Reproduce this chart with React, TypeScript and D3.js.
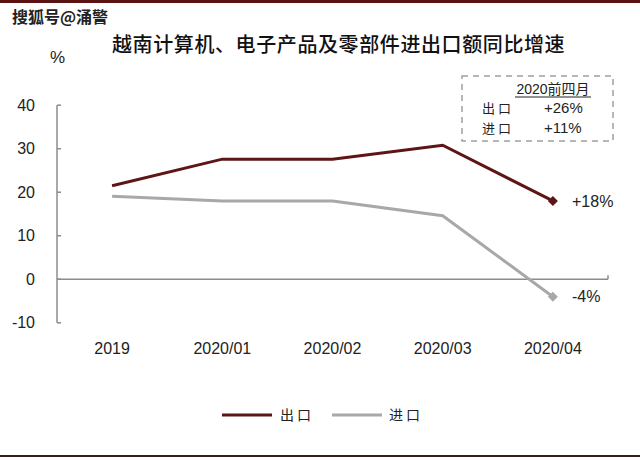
import React from "react";
import * as d3 from "d3";

const categories = ["2019", "2020/01", "2020/02", "2020/03", "2020/04"];
const exportValues = [21.5, 27.6, 27.6, 30.8, 18];
const importValues = [19.1, 18.0, 18.0, 14.6, -4];
const yTicks = [-10, 0, 10, 20, 30, 40];
const seriesNames = ["出口", "进口"];
const endLabels = ["+18%", "-4%"];
const boxValues = ["+26%", "+11%"];
const title = "越南计算机、电子产品及零部件进出口额同比增速";
const watermark = "搜狐号@涌警";

const W = 640;
const H = 460;
const EXPORT_COLOR = "#5e1515";
const IMPORT_COLOR = "#a8a8a8";
const AXIS_COLOR = "#8c8c8c";
const CJK = "'Noto Sans CJK SC', sans-serif";
const LATIN = "'Liberation Sans', Arial, sans-serif";

export default function App() {
  const x = d3.scaleBand<string>().domain(categories).range([57, 608]);
  const y = d3.scaleLinear().domain([-10, 40]).range([322.8, 105.2]);
  const cx = (c: string) => (x(c) as number) + x.bandwidth() / 2;

  const line = d3
    .line<number>()
    .x((_, i) => cx(categories[i]))
    .y((d) => y(d));

  const last = categories.length - 1;
  const marker = d3.symbol().type(d3.symbolSquare).size(50)();

  return (
    <svg
      width={W}
      height={H}
      style={{ position: "absolute", left: 0, top: 0, background: "#fff" }}
    >
      <rect x={0} y={0} width={W} height={H} fill="#fff" />
      <rect x={0} y={0} width={W} height={3} fill="#5a1212" />
      <rect x={0} y={455} width={W} height={2} fill="#3a1c1c" />
      <text x={12} y={23} fontFamily={CJK} fontWeight={700} fontSize={16} fill="#222">
        {watermark}
      </text>
      <text x={112} y={52} fontFamily={CJK} fontWeight={500} fontSize={20} letterSpacing={0.6} fill="#111">
        {title}
      </text>
      <text x={50} y={63} fontFamily={LATIN} fontSize={17} fill="#222">
        %
      </text>

      {/* y axis */}
      <line x1={57} x2={57} y1={y(40)} y2={y(-10)} stroke={AXIS_COLOR} strokeWidth={1.5} />
      {yTicks.map((t) => (
        <g key={t}>
          <line x1={57} x2={61} y1={y(t)} y2={y(t)} stroke={AXIS_COLOR} strokeWidth={1.5} />
          <text x={35} y={y(t)} dy="0.35em" textAnchor="end" fontFamily={LATIN} fontSize={16} fill="#222">
            {t}
          </text>
        </g>
      ))}
      {/* x axis at zero */}
      <line x1={57} x2={608} y1={y(0)} y2={y(0)} stroke={AXIS_COLOR} strokeWidth={1.5} />
      <line x1={608} x2={608} y1={y(0) - 4} y2={y(0)} stroke={AXIS_COLOR} strokeWidth={1.5} />
      {categories.map((c) => (
        <text key={c} x={cx(c)} y={348} dy="0.35em" textAnchor="middle" fontFamily={LATIN} fontSize={16} fill="#222">
          {c}
        </text>
      ))}

      {/* lines */}
      <path d={line(importValues) || ""} fill="none" stroke={IMPORT_COLOR} strokeWidth={3} />
      <path d={line(exportValues) || ""} fill="none" stroke={EXPORT_COLOR} strokeWidth={3} />
      <path d={marker || ""} transform={`translate(${cx(categories[last])},${y(exportValues[last])}) rotate(45)`} fill={EXPORT_COLOR} />
      <path d={marker || ""} transform={`translate(${cx(categories[last])},${y(importValues[last])}) rotate(45)`} fill={IMPORT_COLOR} />
      <text x={572} y={y(exportValues[last])} dy="0.35em" fontFamily={LATIN} fontSize={16} fill="#222">
        {endLabels[0]}
      </text>
      <text x={572} y={y(importValues[last])} dy="0.35em" fontFamily={LATIN} fontSize={16} fill="#222">
        {endLabels[1]}
      </text>

      {/* annotation box */}
      <rect x={462} y={76} width={151} height={65} fill="none" stroke="#a0a0a0" strokeWidth={1.5} strokeDasharray="6,5" />
      <text x={553} y={94} textAnchor="middle" fontSize={14} fill="#222">
        <tspan fontFamily={LATIN}>2020</tspan>
        <tspan fontFamily={CJK}>前四月</tspan>
      </text>
      <line x1={515} x2={591} y1={97} y2={97} stroke="#222" strokeWidth={1} />
      <text x={482} y={113} fontFamily={CJK} fontSize={13} letterSpacing={3} fill="#222">{seriesNames[0]}</text>
      <text x={544} y={113} fontFamily={LATIN} fontSize={15} fill="#222">{boxValues[0]}</text>
      <text x={482} y={133} fontFamily={CJK} fontSize={13} letterSpacing={3} fill="#222">{seriesNames[1]}</text>
      <text x={544} y={133} fontFamily={LATIN} fontSize={15} fill="#222">{boxValues[1]}</text>

      {/* legend */}
      <line x1={222} x2={272} y1={415} y2={415} stroke={EXPORT_COLOR} strokeWidth={3} />
      <text x={280} y={415} dy="0.35em" fontFamily={CJK} fontSize={14} letterSpacing={3} fill="#222">{seriesNames[0]}</text>
      <line x1={332} x2={382} y1={415} y2={415} stroke={IMPORT_COLOR} strokeWidth={3} />
      <text x={389} y={415} dy="0.35em" fontFamily={CJK} fontSize={14} letterSpacing={3} fill="#222">{seriesNames[1]}</text>
    </svg>
  );
}
